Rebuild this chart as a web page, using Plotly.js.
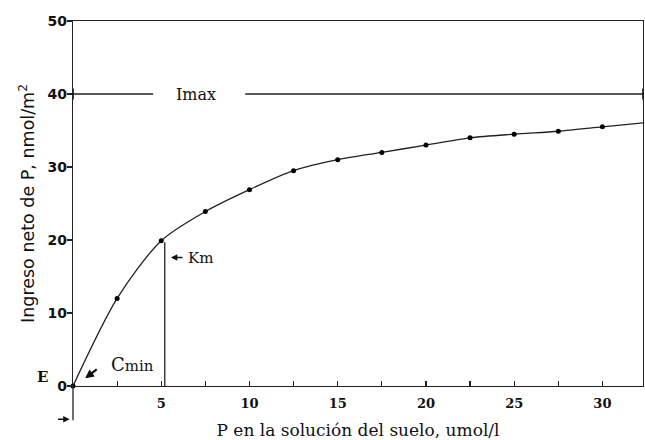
<!DOCTYPE html>
<html><head><meta charset="utf-8">
<script src="https://cdn.plot.ly/plotly-3.0.1.min.js"></script>
<style>html,body{margin:0;padding:0;background:#fff}#chart{width:645px;height:440px}</style>
</head><body><div id="chart"></div>
<script>
// measured points
const pX = [0, 2.5, 5, 7.5, 10, 12.5, 15, 17.5, 20, 22.5, 25, 27.5, 30];
const pY = [0, 12, 19.9, 23.9, 26.9, 29.5, 31, 32, 33, 34, 34.5, 34.9, 35.5];
// fitted curve (passes through points, continues to right edge)
const curveX = [0, 2.5, 5, 7.5, 10, 12.5, 15, 17.5, 20, 22.5, 25, 27.5, 30, 32.5];
const curveY = [0, 12, 19.9, 23.9, 26.9, 29.5, 31, 32, 33, 34, 34.5, 34.9, 35.5, 36.1];
const imaxY = 40;
const kmX = 5.2, kmY = 19.7;
const xTickVals = [0, 2.5, 5, 7.5, 10, 12.5, 15, 17.5, 20, 22.5, 25, 27.5, 30];
const xTickText = ["", "", "5", "", "10", "", "15", "", "20", "", "25", "", "30"];
const yTickVals = [0, 10, 20, 30, 40, 50];

const ink = '#222';
const traces = [
  {x: curveX, y: curveY, mode: 'lines', line: {color: ink, width: 1.3, shape: 'spline', smoothing: 0.8}, hoverinfo: 'skip', cliponaxis: false},
  {x: pX, y: pY, mode: 'markers', marker: {color: '#000', size: 5, symbol: 'circle'}, cliponaxis: false},
  {x: [0, 4.54], y: [imaxY, imaxY], mode: 'lines', line: {color: ink, width: 1.3}, cliponaxis: false},
  {x: [9.76, 32.3], y: [imaxY, imaxY], mode: 'lines', line: {color: ink, width: 1.3}, cliponaxis: false},
  {x: [0, 32.3], y: [imaxY, imaxY], mode: 'markers', marker: {color: '#000', size: 8, symbol: 'line-ns', line: {width: 1.5, color: '#000'}}, cliponaxis: false},
  {x: [kmX, kmX], y: [0, kmY], mode: 'lines', line: {color: ink, width: 1.3}, cliponaxis: false}
];

const layout = {
  width: 645, height: 440,
  margin: {l: 73, r: 2, t: 21, b: 54},
  paper_bgcolor: '#fff', plot_bgcolor: '#fff',
  showlegend: false,
  xaxis: {
    range: [0, 32.3], showgrid: false, zeroline: false,
    showline: true, linecolor: ink, linewidth: 1.3, mirror: true,
    tickmode: 'array', tickvals: xTickVals, ticktext: xTickText,
    ticks: 'inside', ticklen: 5, tickcolor: ink, tickwidth: 1.2,
    tickfont: {family: 'DejaVu Serif', size: 13, color: '#111', weight: 'bold'},
    ticklabelstandoff: 5,
    title: {text: 'P en la solución del suelo, umol/l', font: {family: 'DejaVu Serif', size: 17, color: '#111'}, standoff: 15}
  },
  yaxis: {
    range: [0, 50], showgrid: false, zeroline: false,
    showline: true, linecolor: ink, linewidth: 1.3, mirror: true,
    tickmode: 'array', tickvals: yTickVals,
    ticks: 'outside', ticklen: 5, tickcolor: ink, tickwidth: 1.2,
    tickfont: {family: 'DejaVu Sans', size: 14, color: '#111', weight: 'bold'},
    ticklabelstandoff: -3,
    title: {text: 'Ingreso neto de P, nmol/m<sup>2</sup>', font: {family: 'DejaVu Sans', size: 17.5, color: '#111'}, standoff: 8}
  },
  shapes: [
    {type: 'line', xref: 'paper', yref: 'paper', x0: 0, x1: 0, y0: -0.094, y1: 0, line: {color: ink, width: 1.3}}
  ],
  annotations: [
    {x: 6.98, y: imaxY, xref: 'x', yref: 'y', text: 'Imax', showarrow: false, font: {family: 'DejaVu Serif', size: 16, color: '#111'}},
    {x: 5.55, y: 17.6, xref: 'x', yref: 'y', ax: 13, ay: 0, text: '', showarrow: true, arrowhead: 2, arrowsize: 0.8, arrowwidth: 1.6, arrowcolor: '#111'},
    {x: 6.4, y: 17.6, xref: 'x', yref: 'y', xanchor: 'left', text: 'Km', showarrow: false, font: {family: 'DejaVu Serif', size: 15, color: '#111'}},
    {x: 0.69, y: 1.05, xref: 'x', yref: 'y', ax: 13, ay: -10, text: '', showarrow: true, arrowhead: 2, arrowsize: 0.8, arrowwidth: 2.2, arrowcolor: '#111'},
    {x: 2.05, y: 3.0, xref: 'x', yref: 'y', xanchor: 'left', text: '<span style="font-size:18px">C</span>min', showarrow: false, font: {family: 'DejaVu Serif', size: 15, color: '#111'}},
    {x: -0.067, y: 0.026, xref: 'paper', yref: 'paper', yanchor: 'middle', text: 'E', showarrow: false, font: {family: 'DejaVu Serif', size: 15, color: '#111', weight: 'bold'}},
    {x: -0.006, y: -0.091, xref: 'paper', yref: 'paper', ax: -13, ay: 0, text: '', showarrow: true, arrowhead: 2, arrowsize: 0.8, arrowwidth: 1.6, arrowcolor: '#111'}
  ]
};

Plotly.newPlot('chart', traces, layout, {displayModeBar: false, staticPlot: true});
</script>
</body></html>
